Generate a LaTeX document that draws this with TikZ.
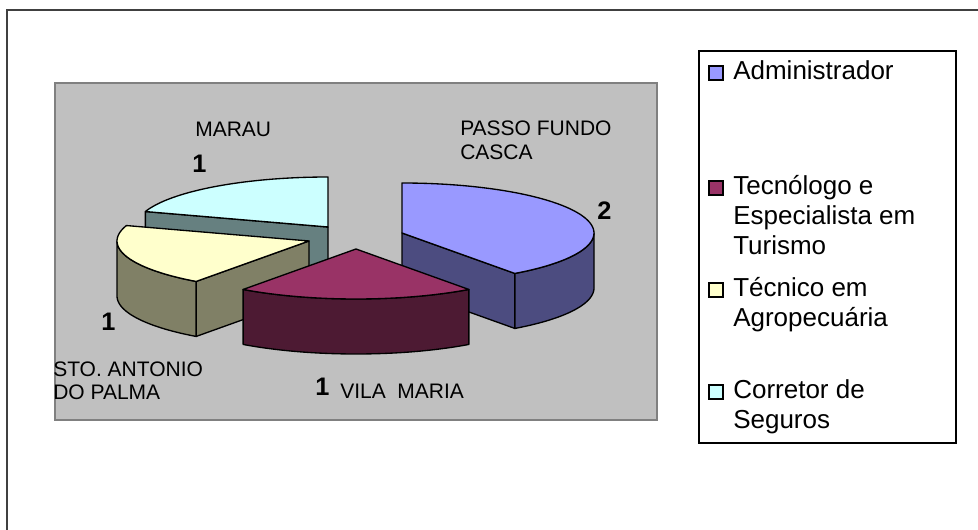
\documentclass[tikz,border=0pt]{standalone}
\usepackage{fontspec}
\setmainfont{Liberation Sans}
\definecolor{blueT}{HTML}{9999FF}
\definecolor{blueS}{HTML}{4C4C80}
\definecolor{marT}{HTML}{993366}
\definecolor{marS}{HTML}{4D1A33}
\definecolor{yelT}{HTML}{FFFFCC}
\definecolor{yelS}{HTML}{808066}
\definecolor{cyaT}{HTML}{CCFFFF}
\definecolor{cyaS}{HTML}{668080}
\definecolor{plotbg}{HTML}{C0C0C0}
\definecolor{plotedge}{HTML}{808080}
\begin{document}
\begin{tikzpicture}[x=0.75pt,y=-0.75pt,
  edge/.style={draw=black,line width=1pt,line join=round},
  lbl/.style={font=\fontsize{15.75}{18}\selectfont,inner sep=0pt,anchor=base west},
  num/.style={font=\fontsize{19}{22}\selectfont\bfseries,inner sep=0pt,anchor=base west},
  leg/.style={font=\fontsize{19.5}{22.5}\selectfont,inner sep=0pt,anchor=base west},
  key/.style={draw=black,line width=0.9pt}]
\useasboundingbox (0,0) rectangle (978,530);
\def\A{192}\def\B{50}\def\H{55}
% outer frame
\draw[line width=1.5pt, draw=black!75] (7,540) -- (7,10) -- (990,10);
% plot area
\draw[fill=plotbg, draw=plotedge, line width=1.6pt] (55,83) rectangle (657,420);
% ---- Corretor (cyan), centre (328,227)
\draw[edge,fill=cyaS] (328,227) -- ({328+\A*sin(288)},{227-\B*cos(288)}) -- ++(0,\H) -- (328,{227+\H}) -- cycle;
\draw[edge,fill=cyaT] (328,227) -- plot[domain=288:360,samples=40] ({328+\A*sin(\x)},{227-\B*cos(\x)}) -- cycle;
% ---- Tecnico (yellow), centre (309,241)
\draw[edge,fill=yelS] (309,241) -- ({309+\A*sin(216)},{241-\B*cos(216)}) -- ++(0,\H) -- (309,{241+\H}) -- cycle;
\draw[edge,fill=yelS] plot[domain=216:270,samples=30] ({309+\A*sin(\x)},{241-\B*cos(\x)}) -- ++(0,\H) -- plot[domain=270:216,samples=30] ({309+\A*sin(\x)},{241+\H-\B*cos(\x)}) -- cycle;
\draw[edge,fill=yelT] (309,241) -- plot[domain=216:288,samples=40] ({309+\A*sin(\x)},{241-\B*cos(\x)}) -- cycle;
% ---- Administrador (blue), centre (402,233)
\draw[edge,fill=blueS] (402,233) -- ({402+\A*sin(144)},{233-\B*cos(144)}) -- ++(0,\H) -- (402,{233+\H}) -- cycle;
\draw[edge,fill=blueS] plot[domain=90:144,samples=30] ({402+\A*sin(\x)},{233-\B*cos(\x)}) -- ++(0,\H) -- plot[domain=144:90,samples=30] ({402+\A*sin(\x)},{233+\H-\B*cos(\x)}) -- cycle;
\draw[edge,fill=blueT] (402,233) -- plot[domain=0:144,samples=60] ({402+\A*sin(\x)},{233-\B*cos(\x)}) -- cycle;
% ---- Tecnologo (maroon), centre (356,249)
\draw[edge,fill=marS] plot[domain=144:216,samples=40] ({356+\A*sin(\x)},{249-\B*cos(\x)}) -- ++(0,\H) -- plot[domain=216:144,samples=40] ({356+\A*sin(\x)},{249+\H-\B*cos(\x)}) -- cycle;
\draw[edge,fill=marT] (356,249) -- plot[domain=144:216,samples=40] ({356+\A*sin(\x)},{249-\B*cos(\x)}) -- cycle;
% ---- labels
\node[lbl] (marau) at (195,137) {MARAU};
\node[num] (n1c) at (192,173) {1};
\node[lbl] (passo) at (460,136) {PASSO FUNDO};
\node[lbl] (casca) at (460,160) {CASCA};
\node[num] (n2) at (597,220) {2};
\node[num] (n1y) at (101,331) {1};
\node[lbl] (sto) at (53,377) {STO. ANTONIO};
\node[lbl] (dopalma) at (53,400) {DO PALMA};
\node[num] (n1m) at (315,396) {1};
\node[lbl] (vila) at (340,399) {VILA\ \ MARIA};
% ---- legend
\draw[line width=1pt, fill=white] (699,51) rectangle (956,443);
\draw[key,fill=blueT] (709,66) rectangle (723,80);
\node[leg] (l1) at (733,80) {Administrador};
\draw[key,fill=marT] (709,181) rectangle (723,195);
\node[leg] (l2a) at (733,195) {Tecnólogo e};
\node[leg] (l2b) at (733,225) {Especialista em};
\node[leg] (l2c) at (733,255) {Turismo};
\draw[key,fill=yelT] (709,283) rectangle (723,297);
\node[leg] (l3a) at (733,297) {Técnico em};
\node[leg] (l3b) at (733,327) {Agropecuária};
\draw[key,fill=cyaT] (709,385) rectangle (723,399);
\node[leg] (l4a) at (733,399) {Corretor de};
\node[leg] (l4b) at (733,429) {Seguros};
\end{tikzpicture}
\end{document}
